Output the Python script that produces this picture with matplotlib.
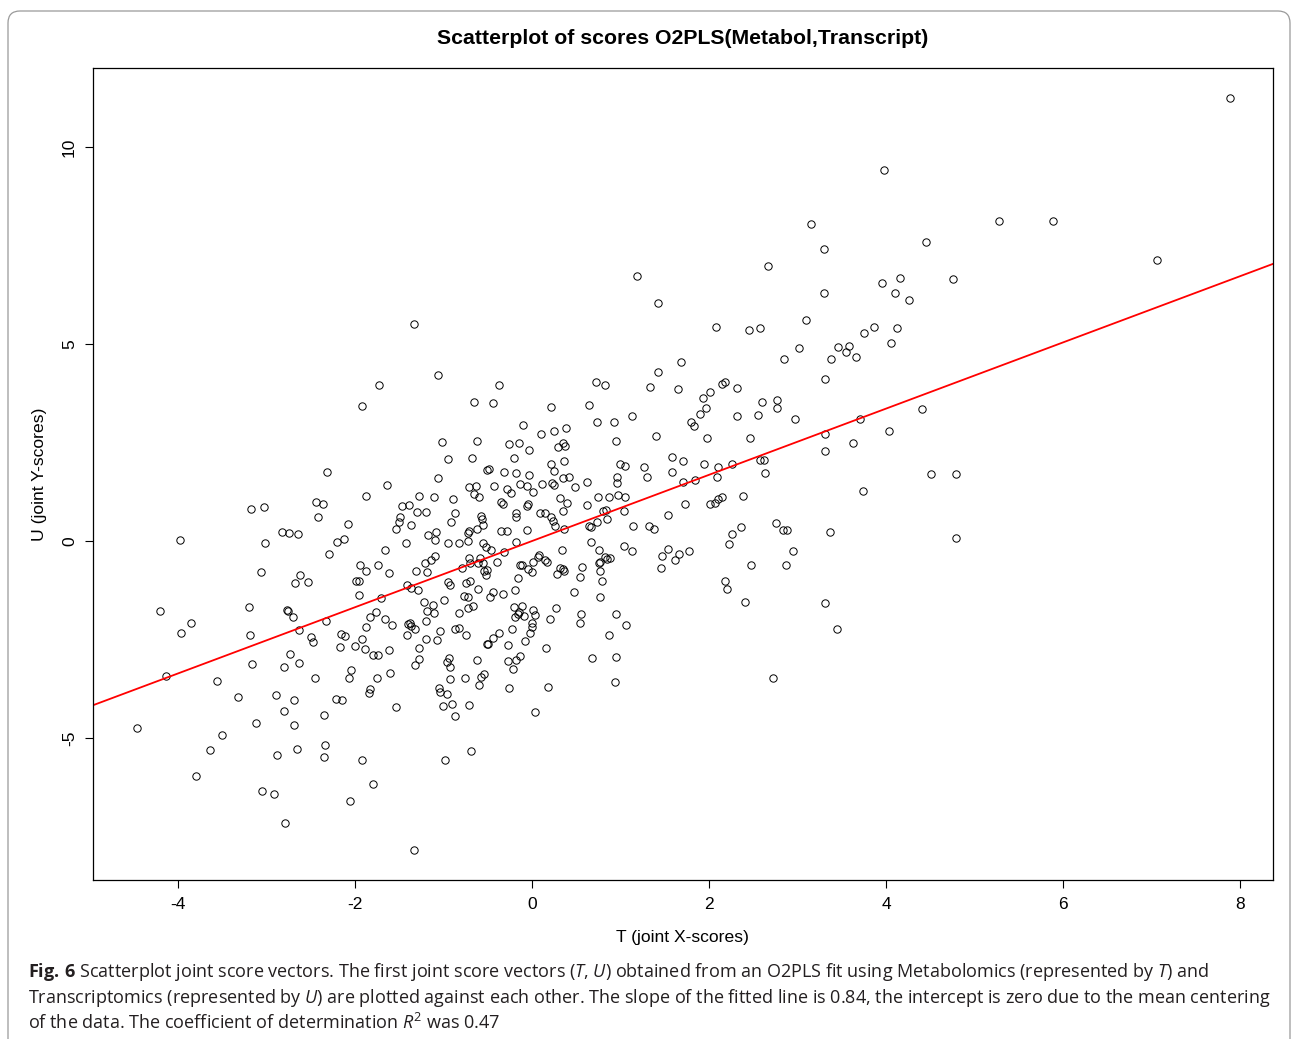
import matplotlib
matplotlib.use("Agg")
import matplotlib.pyplot as plt
from matplotlib.patches import FancyBboxPatch

plt.rcParams["font.family"] = ["Liberation Sans", "DejaVu Sans"]
plt.rcParams["axes.unicode_minus"] = False
plt.rcParams["mathtext.fontset"] = "custom"
plt.rcParams["mathtext.rm"] = "Open Sans"
plt.rcParams["mathtext.it"] = "Open Sans:italic"
plt.rcParams["mathtext.bf"] = "Open Sans:bold"

# joint X-scores (T) and joint Y-scores (U)
t_scores = [
    -3.98, -4.20, -3.85, -3.97, -4.14, -3.56, -4.46, -3.50, -3.64, -3.80,
    -1.73, -1.92, -2.32, -1.64, -1.88, -3.18, -3.03, -2.44, -2.36, -2.42, -2.08,
    -1.28, -1.47, -1.39, -1.30, -1.49, -1.50, -1.54, -1.37, -2.83, -2.75, -2.64,
    -3.02, -2.20, -2.12, -1.66, -1.42, -2.29, -3.06, -2.62, -2.68, -2.53, -1.94, -1.88,
    -1.74, -1.62, -1.31, -1.99, -1.95, -1.95, -1.71, -1.41, -1.37, -1.29, -3.20, -2.77,
    -2.76, -2.70, -2.33, -1.83, -1.76, -1.66, -1.58, -1.88, -1.40, -1.38, -1.37, -1.32,
    -1.41, -3.19, -2.63, -2.50, -2.47, -2.16, -2.11, -2.17, -2.00, -1.92, -1.89, -1.80,
    -1.74, -1.62, -1.28, -1.28, -1.32, -2.73, -3.16, -2.80, -2.63, -2.05, -2.07, -2.45,
    -1.75, -1.60, -1.83, -1.84, -3.32, -2.89, -2.69, -2.21, -2.15, -1.54, -2.80, -2.35,
    -3.12, -2.69, -2.34, -2.66, -2.88, -2.35, -1.92, -0.98, -0.69, -1.80, -3.05, -2.92, -2.06, -2.79, -1.33,
    -1.06, -0.37, -0.66, -0.44, 0.72, 0.82, 0.21, 0.64, 0.73, 0.92, -0.10, 0.10, 0.25,
    0.38, -1.02, -0.62, -0.26, -0.15, -0.03, 0.29, 0.35, 0.37, -0.95, -0.68, -0.20, 0.21,
    0.36, -0.51, -0.49, -0.32, -0.18, -0.03, 0.25, -1.06, 0.35, 0.42, 0.62, -0.71, -0.63,
    -0.43, -0.28, -0.24, -0.14, -0.06, 0.01, 0.11, 0.23, 0.25, 0.49, -0.66, -0.60, -1.11,
    -0.89, 0.31, 0.75, 0.87, -0.35, -0.33, -0.05, -0.06, 0.40, 0.62, -1.20, -0.87, -0.58,
    -0.57, -0.55, -0.18, -0.18, 0.09, 0.15, 0.21, 0.24, 0.26, 0.35, 0.80, 0.84, 0.85,
    -0.92, -0.06, 0.36, 0.64, 0.67, 0.73, -0.62, -0.71, -0.72, -0.35, -0.28, -1.18, -1.08,
    2.85, 3.02, 1.68, 1.42, 1.33, 1.65, 2.15, 2.18, 2.31, 2.01, 1.93, 2.60,
    2.77, 2.77, 1.97, 1.90, 2.32, 2.55, 2.97, 1.13, 1.80, 1.83, 0.95, 1.40,
    1.98, 2.46, 1.58, 1.71, 0.99, 1.05, 1.27, 1.94, 2.10, 2.26, 2.57, 2.62,
    0.96, 0.96, 1.30, 1.58, 1.71, 1.84, 2.09, 2.63, 0.97, 1.05, 2.10, 2.14,
    2.38, 1.73, 2.01, 2.07, 1.04, 1.53, 1.14, 1.32, 1.38, 2.36, 2.26, 2.76, 2.84, 2.88,
    -1.10, -0.95, -0.82, -0.72, -0.55, -0.52, -0.46, -0.18, 0.67, 0.34, 0.76, 0.82,
    0.85, 0.77, 0.76, -1.21, -1.14, -1.10, -0.71, -0.59, -0.70, -0.61, -0.55, -0.40,
    -0.32, -0.79, -1.19, -0.54, -0.51, -0.52, -0.14, -0.11, -0.05, 0.00, 0.01, 0.07,
    0.08, 0.15, 0.17, 0.32, 0.35, 0.36, 0.28, 0.56, 0.54, 0.77, 0.79, -0.16,
    -0.95, -0.93, -0.75, -0.70, -0.61, -0.44, -0.47, -0.33, -0.19, -0.77, -0.72, 0.47,
    0.77, -1.22, -0.99, -1.12, -1.19, -1.11, -0.72, -0.67, -0.82, -0.20, -0.11, -0.15,
    -0.19, -0.16, -0.09, 0.01, 0.03, 0.27, 0.20, 0.55, 0.54, -1.20, -1.04, -0.87,
    -0.82, -0.75, -0.23, 0.00, 0.00, -0.02, -0.37, -0.44, -1.20, -1.07, -0.51, -0.50,
    -0.27, -0.08, 0.16, 0.87, -0.94, -0.96, -0.93, -0.62, -0.27, -0.18, -0.14, -0.21,
    0.68, -0.93, -0.76, -0.58, -0.54, -0.60, -0.26, 0.18, -1.05, -1.04, -0.96, -1.01,
    -0.90, -0.71, -0.87, 0.03,
    1.04, 1.13, 0.88, 1.47, 1.53, 1.46, 1.62, 1.66, 1.77, 2.23, 2.18,
    2.20, 2.47, 2.41, 2.95, 2.87, 0.95, 1.06, 0.95, 0.94, 2.72,
    7.88, 3.97, 3.15, 3.30, 5.27, 5.89, 4.45, 7.06, 3.30, 3.95, 4.16, 4.10,
    4.26, 4.76, 3.10, 3.86, 4.12, 3.75, 4.05, 3.46, 3.58, 3.55, 3.66, 3.38,
    3.31, 4.40, 3.71, 3.31, 4.03, 3.62, 3.31, 4.51, 4.79, 3.74, 3.37, 4.79, 3.31, 3.44,
    -1.33, 1.18, 1.42, 2.67, 2.08, 2.45, 2.58,
]
u_scores = [
    0.03, -1.78, -2.08, -2.33, -3.43, -3.55, -4.75, -4.92, -5.30, -5.96,
    3.96, 3.43, 1.75, 1.42, 1.14, 0.81, 0.86, 0.99, 0.94, 0.61, 0.43,
    1.14, 0.89, 0.91, 0.74, 0.61, 0.48, 0.30, 0.41, 0.23, 0.20, 0.18,
    -0.05, -0.03, 0.05, -0.23, -0.05, -0.33, -0.79, -0.86, -1.07, -1.04, -0.61, -0.76,
    -0.61, -0.81, -0.76, -1.02, -1.02, -1.37, -1.45, -1.12, -1.19, -1.24, -1.68, -1.75,
    -1.78, -1.93, -2.03, -1.93, -1.80, -1.98, -2.13, -2.18, -2.11, -2.08, -2.16, -2.23,
    -2.39, -2.39, -2.26, -2.44, -2.56, -2.36, -2.41, -2.69, -2.66, -2.49, -2.74, -2.89,
    -2.89, -2.77, -2.72, -2.99, -3.15, -2.87, -3.12, -3.20, -3.10, -3.27, -3.48, -3.48,
    -3.48, -3.35, -3.76, -3.86, -3.96, -3.91, -4.04, -4.01, -4.04, -4.21, -4.31, -4.42,
    -4.62, -4.67, -5.18, -5.28, -5.43, -5.48, -5.56, -5.56, -5.33, -6.17, -6.35, -6.42, -6.60, -7.16, -7.84,
    4.21, 3.96, 3.53, 3.50, 4.04, 3.96, 3.40, 3.45, 3.02, 3.02, 2.94, 2.72, 2.79,
    2.87, 2.51, 2.54, 2.46, 2.49, 2.31, 2.39, 2.49, 2.41, 2.08, 2.11, 2.11, 1.95,
    2.03, 1.80, 1.83, 1.75, 1.73, 1.68, 1.78, 1.60, 1.60, 1.62, 1.50, 1.37, 1.40,
    1.40, 1.32, 1.22, 1.45, 1.40, 1.24, 1.45, 1.47, 1.42, 1.37, 1.19, 1.12, 1.12,
    1.07, 1.09, 1.12, 1.12, 0.99, 0.94, 0.94, 0.89, 0.96, 0.91, 0.74, 0.71, 0.63,
    0.56, 0.41, 0.71, 0.61, 0.71, 0.71, 0.61, 0.51, 0.38, 0.76, 0.76, 0.79, 0.56,
    0.48, 0.28, 0.30, 0.38, 0.36, 0.48, 0.30, 0.25, 0.20, 0.25, 0.25, 0.15, 0.23,
    4.62, 4.90, 4.54, 4.29, 3.91, 3.86, 3.98, 4.04, 3.88, 3.78, 3.63, 3.53,
    3.58, 3.38, 3.38, 3.22, 3.17, 3.20, 3.10, 3.17, 3.02, 2.92, 2.54, 2.66,
    2.61, 2.61, 2.13, 2.03, 1.95, 1.90, 1.88, 1.95, 1.88, 1.95, 2.06, 2.06,
    1.62, 1.47, 1.62, 1.75, 1.50, 1.55, 1.62, 1.73, 1.17, 1.12, 1.07, 1.12,
    1.14, 0.94, 0.94, 0.96, 0.76, 0.66, 0.38, 0.38, 0.30, 0.36, 0.18, 0.46, 0.28, 0.28,
    0.03, -0.05, -0.05, 0.00, -0.05, -0.15, -0.23, -0.03, -0.03, -0.23, -0.23, -0.41,
    -0.46, -0.53, -0.56, -0.56, -0.48, -0.38, -0.43, -0.43, -0.56, -0.56, -0.56, -0.53,
    -0.28, -0.69, -0.79, -0.76, -0.74, -0.86, -0.61, -0.61, -0.71, -0.79, -0.53, -0.41,
    -0.36, -0.48, -0.53, -0.69, -0.71, -0.76, -0.84, -0.66, -0.91, -0.76, -1.02, -0.94,
    -1.04, -1.12, -1.07, -1.02, -1.22, -1.29, -1.42, -1.35, -1.24, -1.40, -1.42, -1.29,
    -1.42, -1.55, -1.50, -1.62, -1.78, -1.83, -1.70, -1.65, -1.83, -1.68, -1.65, -1.80,
    -1.93, -1.85, -1.90, -1.75, -1.88, -1.70, -1.98, -1.85, -2.08, -2.03, -2.28, -2.23,
    -2.21, -2.39, -2.23, -2.08, -2.18, -2.33, -2.33, -2.46, -2.49, -2.51, -2.61, -2.61,
    -2.64, -2.54, -2.72, -2.39, -2.97, -3.07, -3.20, -3.02, -3.05, -3.02, -2.92, -3.25,
    -2.97, -3.50, -3.48, -3.45, -3.38, -3.65, -3.73, -3.71, -3.73, -3.83, -3.88, -4.19,
    -4.14, -4.16, -4.44, -4.34,
    -0.13, -0.25, -0.43, -0.38, -0.20, -0.69, -0.48, -0.33, -0.25, -0.08, -1.02,
    -1.22, -0.61, -1.55, -0.25, -0.61, -1.85, -2.13, -2.94, -3.58, -3.48,
    11.24, 9.42, 8.05, 7.41, 8.12, 8.12, 7.59, 7.13, 6.29, 6.55, 6.67, 6.29,
    6.12, 6.65, 5.61, 5.43, 5.41, 5.28, 5.03, 4.92, 4.95, 4.80, 4.67, 4.62,
    4.11, 3.35, 3.10, 2.72, 2.79, 2.49, 2.28, 1.70, 1.70, 1.27, 0.23, 0.08, -1.57, -2.23,
    5.51, 6.73, 6.04, 6.98, 5.43, 5.36, 5.41,
]

slope = 0.84
x_ticks = [-4, -2, 0, 2, 4, 6, 8]
y_ticks = [-5, 0, 5, 10]

W, H = 1292, 1039
fig = plt.figure(figsize=(W / 100, H / 100), dpi=100)
ax = fig.add_axes([93 / W, 1 - 880 / H, 1180 / W, 812 / H])

ax.plot(t_scores, u_scores, linestyle="none", marker="o", markersize=5.3,
        markerfacecolor="none", markeredgecolor="black", markeredgewidth=0.7)
ax.axline((0, 0), slope=slope, color="#ff0000", linewidth=1.3)

ax.set_xlim(-4.96, 8.37)
ax.set_ylim(-8.6, 12.0)
ax.set_xticks(x_ticks)
ax.set_yticks(y_ticks)
ax.tick_params(direction="out", length=5.5, width=0.8, labelsize=12.5, color="black")
ax.tick_params(axis="x", pad=7)
ax.tick_params(axis="y", pad=6)
for lab in ax.get_yticklabels():
    lab.set_rotation(90)
    lab.set_va("center")
for sp in ax.spines.values():
    sp.set_linewidth(0.9)

ax.set_xlabel("T (joint X-scores)", fontsize=12.6, labelpad=12.5)
ax.set_ylabel("U (joint Y-scores)", fontsize=12.6, labelpad=11)
ax.set_title("Scatterplot of scores O2PLS(Metabol,Transcript)", fontsize=15.3,
             fontweight="bold", pad=17.5)

# journal frame around the figure
frame = FancyBboxPatch((0.08, -0.5), 12.82, 10.39 - 0.11 + 0.5,
                       boxstyle="round,pad=0,rounding_size=0.12",
                       transform=fig.dpi_scale_trans, facecolor="none",
                       edgecolor="#9a9a9a", linewidth=0.9, clip_on=False)
fig.patches.append(frame)

caption = [
    r"$\mathbf{Fig.\,6}$ Scatterplot joint score vectors. The first joint score vectors "
    r"($\mathit{T}$, $\mathit{U}$) obtained from an O2PLS fit using Metabolomics "
    r"(represented by $\mathit{T}$) and",
    r"Transcriptomics (represented by $\mathit{U}$) are plotted against each other. "
    r"The slope of the fitted line is 0.84, the intercept is zero due to the mean centering",
    r"of the data. The coefficient of determination $\mathit{R}^2$ was 0.47",
]
for i, line in enumerate(caption):
    fig.text(28 / W, 1 - (977 + 26 * i) / H, line, family=["Open Sans", "DejaVu Sans"],
             fontsize=13.0, color="#231f20", va="baseline", ha="left")

fig.savefig("out.png", dpi=100)
